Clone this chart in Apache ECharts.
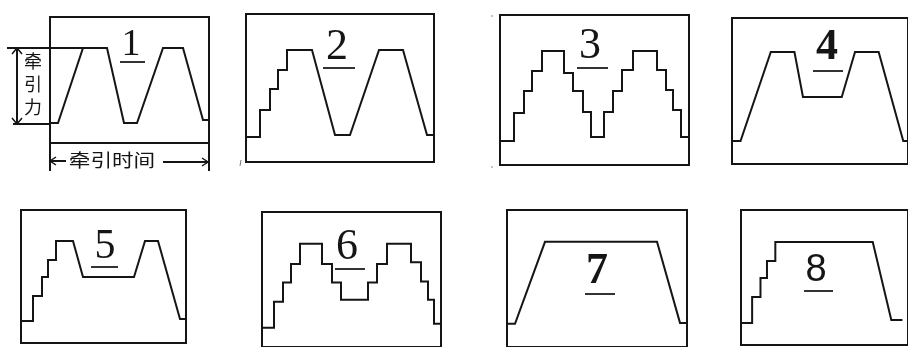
<!DOCTYPE html>
<html>
<head>
<meta charset="utf-8">
<title>牵引力波形</title>
<script src="https://cdn.jsdelivr.net/npm/echarts@6/dist/echarts.min.js"></script>
<style>
  html, body { margin: 0; padding: 0; background: #fff; }
  #chart { width: 908px; height: 347px; }
</style>
</head>
<body>
<div id="chart"></div>
<script>
// 波形数据：[牵引时间, 牵引力]，从各小图读取
const wave1 = [[0, 20], [8, 20], [33, 95], [57, 95], [74, 20], [87, 20], [113, 95], [133, 95], [153, 23], [159, 23]]
const wave2 = [[0, 25], [14, 25], [14, 52], [24, 52], [24, 73], [32, 73], [32, 92], [41, 92], [41, 112], [66, 112],
  [89, 27], [104, 27], [133, 112], [157, 112], [181, 27], [188, 27]]
const wave3 = [[0, 24], [14, 24], [14, 52], [24, 52], [24, 74], [32, 74], [32, 94], [42, 94], [42, 114], [64, 114],
  [64, 92], [73, 92], [73, 74], [83, 74], [83, 53], [91, 53], [91, 28], [104, 28], [104, 53], [113, 53],
  [113, 74], [122, 74], [122, 95], [133, 95], [133, 114], [157, 114], [157, 95], [166, 95], [166, 75],
  [173, 75], [173, 55], [181, 55], [181, 28], [189, 28]]
const wave4 = [[0, 23], [9, 23], [41, 112], [66, 112], [75, 67], [116, 67], [130, 112], [155, 112], [181, 23], [186, 23]]
const wave5 = [[0, 22], [12, 22], [12, 47], [21, 47], [21, 66], [27, 66], [27, 83], [35, 83], [35, 102], [52, 102],
  [62, 66], [113, 66], [124, 102], [137, 102], [159, 24], [165, 24]]
const wave6 = [[0, 20], [12, 20], [12, 47], [21, 47], [21, 67], [29, 67], [29, 86], [38, 86], [38, 107], [60, 107],
  [60, 86], [70, 86], [70, 67], [79, 67], [79, 49], [106, 49], [106, 67], [115, 67], [115, 86], [125, 86],
  [125, 107], [149, 107], [149, 88], [159, 88], [159, 68], [166, 68], [166, 49], [172, 49], [172, 24], [179, 24]]
const wave7 = [[0, 24], [8, 24], [38, 109], [150, 109], [173, 25], [180, 25]]
const wave8 = [[0, 22], [12, 22], [12, 48], [21, 48], [21, 67], [28, 67], [28, 84], [37, 84], [37, 103], [142, 103],
  [162, 25], [174, 25]]
const waveNames = ['1', '2', '3', '4', '5', '6', '7', '8']

const waves = [wave1, wave2, wave3, wave4, wave5, wave6, wave7, wave8]

// 各小图边框位置（像素）
const boxes = [
  { left: 50, top: 17, width: 159, height: 126 },
  { left: 246, top: 14, width: 188, height: 148 },
  { left: 500, top: 15, width: 189, height: 150 },
  { left: 732, top: 18, width: 186, height: 146 },
  { left: 21, top: 210, width: 165, height: 133 },
  { left: 262, top: 212, width: 179, height: 140 },
  { left: 507, top: 210, width: 180, height: 142 },
  { left: 741, top: 210, width: 180, height: 135 }
]

// 编号位置与字体
const serif = '"Liberation Serif", "DejaVu Serif", serif'
const labelStyle = [
  { x: 131, y: 45, ulY: 62, ul: [120, 145], size: 38, family: serif, weight: 'normal' },
  { x: 337, y: 47, ulY: 68, ul: [323, 355], size: 44, family: serif, weight: 'normal' },
  { x: 590, y: 46, ulY: 68, ul: [577, 608], size: 44, family: serif, weight: 'normal' },
  { x: 827, y: 48, ulY: 71, ul: [813, 843], size: 44, family: serif, weight: 'bold' },
  { x: 105, y: 247, ulY: 267, ul: [91, 118], size: 42, family: serif, weight: 'normal' },
  { x: 347, y: 247, ulY: 269, ul: [335, 365], size: 44, family: serif, weight: 'normal' },
  { x: 597, y: 272, ulY: 294, ul: [585, 615], size: 44, family: serif, weight: 'bold' },
  { x: 816, y: 271, ulY: 291, ul: [804, 833], size: 38, family: '"Liberation Sans", Arial, sans-serif', weight: 'normal' }
]

const ink = '#151515'

const chart = echarts.init(document.getElementById('chart'), null, { renderer: 'canvas' })

const grid = boxes.map(b => ({
  left: b.left,
  top: b.top,
  width: b.width,
  height: b.height,
  show: true,
  borderColor: ink,
  borderWidth: 2,
  backgroundColor: 'transparent',
  containLabel: false
}))

const xAxis = boxes.map((b, i) => ({
  type: 'value', gridIndex: i, min: 0, max: b.width, show: false
}))
const yAxis = boxes.map((b, i) => ({
  type: 'value', gridIndex: i, min: 0, max: b.height, show: false
}))

const series = waves.map((w, i) => ({
  name: waveNames[i],
  type: 'line',
  xAxisIndex: i,
  yAxisIndex: i,
  data: w,
  symbol: 'none',
  silent: true,
  lineStyle: { color: ink, width: 2, join: 'miter' }
}))

// 编号及下划线
const graphic = []
labelStyle.forEach((s, i) => {
  graphic.push({
    type: 'text',
    x: s.x,
    y: s.y,
    style: {
      text: waveNames[i],
      textAlign: 'center',
      textVerticalAlign: 'middle',
      fontSize: s.size,
      fontFamily: s.family,
      fontWeight: s.weight,
      fill: ink
    }
  })
  graphic.push({
    type: 'line',
    shape: { x1: s.ul[0], y1: s.ulY, x2: s.ul[1], y2: s.ulY },
    style: { stroke: '#333', lineWidth: 2 }
  })
})

// 图1 的尺寸标注
const cjk = '"Noto Sans CJK SC", sans-serif'
const dimLine = (x1, y1, x2, y2) => ({
  type: 'line',
  shape: { x1, y1, x2, y2 },
  style: { stroke: ink, lineWidth: 2 }
})
const dimHead = points => ({
  type: 'polyline',
  shape: { points },
  style: { stroke: ink, lineWidth: 1.5, fill: null }
})
graphic.push(
  dimLine(7, 48, 83, 48),
  dimLine(13, 124, 50, 124),
  dimLine(17, 48, 17, 124),
  dimHead([[12, 54], [17, 48], [22, 54]]),
  dimHead([[12, 118], [17, 124], [22, 118]]),
  dimLine(50, 143, 50, 171),
  dimLine(209, 143, 209, 171),
  dimLine(50, 161, 66, 161),
  dimHead([[56, 157], [50, 161], [56, 165]]),
  dimLine(163, 162, 208, 162),
  dimHead([[202, 158], [208, 162], [202, 166]]),
  {
    type: 'text',
    x: 33,
    y: 84,
    style: {
      text: '牵\n引\n力',
      textAlign: 'center',
      textVerticalAlign: 'middle',
      fontSize: 18,
      lineHeight: 23,
      fontFamily: cjk,
      fill: ink
    }
  },
  {
    type: 'text',
    x: 112,
    y: 160,
    scaleX: 1.2,
    style: {
      text: '牵引时间',
      textAlign: 'center',
      textVerticalAlign: 'middle',
      fontSize: 18,
      fontFamily: cjk,
      fill: ink
    }
  },
  // 原图上的零星墨点
  { type: 'circle', shape: { cx: 492, cy: 16, r: 0.8 }, style: { fill: '#777' } },
  { type: 'circle', shape: { cx: 492, cy: 167, r: 0.8 }, style: { fill: '#777' } },
  { type: 'line', shape: { x1: 241, y1: 160, x2: 240, y2: 166 }, style: { stroke: '#777', lineWidth: 1 } }
)

chart.setOption({
  animation: false,
  backgroundColor: '#fff',
  grid,
  xAxis,
  yAxis,
  series,
  graphic
})
</script>
</body>
</html>
